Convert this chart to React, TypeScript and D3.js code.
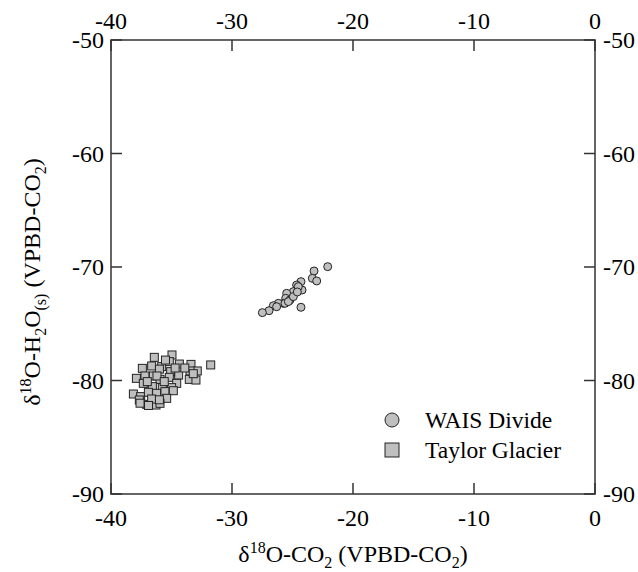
import * as d3 from "d3";

const W = 638;
const H = 572;
const M = { left: 111, right: 43, top: 40, bottom: 78 };

const X_TICKS = [-40, -30, -20, -10, 0];
const Y_TICKS = [-50, -60, -70, -80, -90];

// WAIS Divide samples [δ18O-CO2, δ18O-H2O]
const waisX = [-22.09, -23.22, -23.36, -23.0, -24.3, -24.66, -24.21, -24.93, -25.48, -25.56, -25.21, -25.76, -26.17, -26.58, -26.31, -26.94, -27.49, -25.62, -25.34, -24.52, -24.3, -24.93, -24.6];
const waisY = [-69.97, -70.35, -71.0, -71.23, -71.29, -71.59, -72.03, -72.17, -72.32, -72.76, -72.91, -73.2, -73.2, -73.41, -73.5, -73.85, -74.02, -73.2, -73.05, -71.73, -73.55, -72.61, -72.2];

// Taylor Glacier samples
const taylorX = [-36.42, -34.96, -37.41, -36.64, -35.81, -35.18, -34.35, -33.39, -32.87, -33.47, -34.41, -35.07, -37.9, -37.19, -36.5, -37.33, -35.95, -35.18, -34.57, -33.53, -32.98, -36.58, -35.76, -34.99, -38.15, -37.55, -36.91, -36.23, -35.54, -34.85, -37.05, -36.28, -35.4, -37.66, -35.95, -36.64, -31.76, -36.0, -35.5, -34.7, -33.9, -37.6, -36.9, -36.2, -35.6, -33.2, -37.0, -36.0];
const taylorY = [-77.96, -77.75, -78.93, -78.72, -78.78, -78.34, -78.55, -78.58, -79.16, -79.16, -79.52, -79.22, -79.81, -79.6, -79.6, -80.25, -79.9, -79.72, -80.25, -79.9, -79.96, -80.54, -80.63, -80.63, -81.19, -81.42, -81.04, -81.13, -80.98, -80.9, -82.1, -82.16, -81.57, -81.72, -82.01, -81.63, -78.63, -79.0, -78.2, -78.9, -78.9, -82.0, -82.2, -79.6, -80.1, -79.4, -80.1, -81.7];

const FONT = '"Liberation Serif", "DejaVu Serif", serif';
const FILL = "#bfbfbf";
const STROKE = "#222";

export default function App() {
  const x = d3.scaleLinear().domain([-40, 0]).range([M.left, W - M.right]);
  const y = d3.scaleLinear().domain([-90, -50]).range([H - M.bottom, M.top]);
  const [x0, x1] = x.range();
  const [y0, y1] = [y(-50), y(-90)];
  const tick = 11;

  return (
    <svg width={W} height={H} style={{ position: "absolute", left: 0, top: 0, fontFamily: FONT }}>
      <rect x={x0} y={y0} width={x1 - x0} height={y1 - y0} fill="none" stroke="#333" strokeWidth={1.5} />
      {X_TICKS.map((t) => (
        <g key={"x" + t}>
          <line x1={x(t)} x2={x(t)} y1={y1} y2={y1 - tick} stroke="#333" strokeWidth={1.5} />
          <line x1={x(t)} x2={x(t)} y1={y0} y2={y0 + tick} stroke="#333" strokeWidth={1.5} />
          <text x={x(t)} y={526} fontSize={24} textAnchor="middle">{t}</text>
          <text x={x(t)} y={29} fontSize={24} textAnchor="middle">{t}</text>
        </g>
      ))}
      {Y_TICKS.map((t) => (
        <g key={"y" + t}>
          <line x1={x0} x2={x0 + tick} y1={y(t)} y2={y(t)} stroke="#333" strokeWidth={1.5} />
          <line x1={x1} x2={x1 - tick} y1={y(t)} y2={y(t)} stroke="#333" strokeWidth={1.5} />
          <text x={104} y={y(t)} dy="0.35em" fontSize={24} textAnchor="end">{t}</text>
          <text x={603} y={y(t)} dy="0.35em" fontSize={24} textAnchor="start">{t}</text>
        </g>
      ))}

      {taylorX.map((v, i) => (
        <rect key={"t" + i} x={x(v) - 4} y={y(taylorY[i]) - 4} width={8} height={8} fill={FILL} stroke={STROKE} strokeWidth={1} />
      ))}
      {waisX.map((v, i) => (
        <circle key={"w" + i} cx={x(v)} cy={y(waisY[i])} r={4} fill={FILL} stroke={STROKE} strokeWidth={1} />
      ))}

      <circle cx={392} cy={420} r={7} fill={FILL} stroke={STROKE} strokeWidth={1} />
      <text x={425} y={428} fontSize={23.5}>WAIS Divide</text>
      <rect x={385} y={443} width={14} height={14} fill={FILL} stroke={STROKE} strokeWidth={1} />
      <text x={425} y={458} fontSize={23.5}>Taylor Glacier</text>

      <text x={(x0 + x1) / 2} y={562} fontSize={24} textAnchor="middle">
        δ<tspan dy={-9} fontSize={16}>18</tspan>
        <tspan dy={9}>O-CO</tspan>
        <tspan dy={6} fontSize={16}>2</tspan>
        <tspan dy={-6}> (VPBD-CO</tspan>
        <tspan dy={6} fontSize={16}>2</tspan>
        <tspan dy={-6}>)</tspan>
      </text>
      <text transform={`translate(40, 282) rotate(-90)`} fontSize={24} textAnchor="middle">
        δ<tspan dy={-9} fontSize={16}>18</tspan>
        <tspan dy={9}>O-H</tspan>
        <tspan dy={6} fontSize={16}>2</tspan>
        <tspan dy={-6}>O</tspan>
        <tspan dy={6} fontSize={16}>(s)</tspan>
        <tspan dy={-6}> (VPBD-CO</tspan>
        <tspan dy={6} fontSize={16}>2</tspan>
        <tspan dy={-6}>)</tspan>
      </text>
    </svg>
  );
}
